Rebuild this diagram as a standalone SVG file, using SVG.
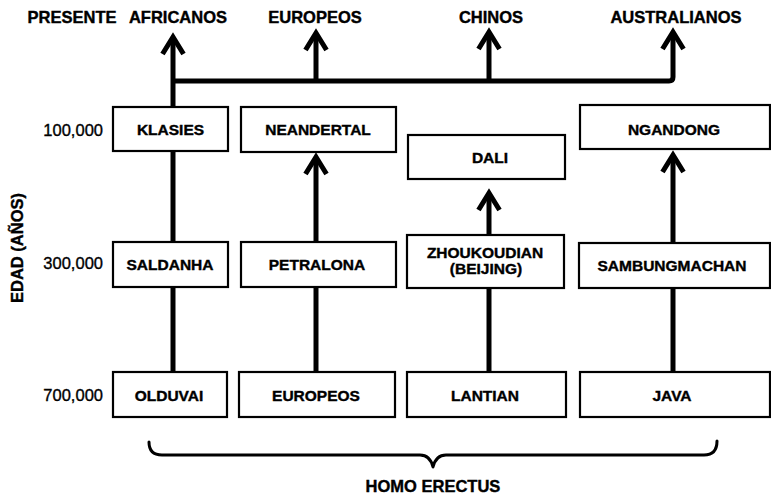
<svg xmlns="http://www.w3.org/2000/svg" width="771" height="496" viewBox="0 0 771 496">
<defs>
<marker id="head" markerUnits="userSpaceOnUse" orient="auto" refX="0" refY="0" markerWidth="40" markerHeight="40" viewBox="-25 -20 40 40" overflow="visible">
<path d="M -17,-10.5 L 0,0 L -17,10.5" fill="none" stroke="#000" stroke-width="5" stroke-linejoin="miter" stroke-miterlimit="10"/>
</marker>
<style>
.box{fill:#fff;stroke:#000;stroke-width:2.2}
.lbl{font-family:"Liberation Sans",Arial,sans-serif;font-weight:bold;font-size:15.5px;text-anchor:middle;fill:#000;stroke:#000;stroke-width:0.4}
.top{font-family:"Liberation Sans",Arial,sans-serif;font-weight:bold;font-size:16.5px;text-anchor:middle;fill:#000;stroke:#000;stroke-width:0.4}
.age{font-family:"Liberation Sans",Arial,sans-serif;font-size:16.5px;text-anchor:end;fill:#000;stroke:#000;stroke-width:0.35}
.ln{fill:none;stroke:#000;stroke-width:5}
.arr{fill:none;stroke:#000;stroke-width:5;marker-end:url(#head)}
.brace{fill:none;stroke:#000;stroke-width:3;stroke-linejoin:round;stroke-linecap:round}
</style>
</defs>
<rect width="771" height="496" fill="#fff"/>

<g id="connectors">
<path class="arr" d="M173,107 V37"/>
<path class="arr" d="M173,81 H669 Q673,81 673,77 V32"/>
<path class="arr" d="M316,81 V33"/>
<path class="arr" d="M489,81 V32"/>
<path class="ln" d="M173,372 V287"/>
<path class="ln" d="M173,242 V151"/>
<path class="ln" d="M316,372 V287"/>
<path class="arr" d="M316,242 V157"/>
<path class="ln" d="M489,372 V288"/>
<path class="arr" d="M489,235 V193"/>
<path class="ln" d="M673,372 V288"/>
<path class="arr" d="M673,243 V155"/>
</g>

<g id="labels-top">
<text class="top" x="72" y="23">PRESENTE</text>
<text class="top" x="178" y="23">AFRICANOS</text>
<text class="top" x="315" y="23">EUROPEOS</text>
<text class="top" x="491" y="23">CHINOS</text>
<text class="top" x="676" y="23">AUSTRALIANOS</text>
</g>

<g id="axis">
<text class="age" x="103" y="136">100,000</text>
<text class="age" x="103" y="269">300,000</text>
<text class="age" x="103" y="401">700,000</text>
<text class="top" transform="translate(23,248) rotate(-90)">EDAD (AÑOS)</text>
</g>

<g id="klasies"><rect class="box" x="113" y="107" width="115" height="44"/><text class="lbl" x="170.5" y="135">KLASIES</text></g>
<g id="neandertal"><rect class="box" x="241" y="107" width="155" height="45"/><text class="lbl" x="318" y="135">NEANDERTAL</text></g>
<g id="dali"><rect class="box" x="408" y="135" width="157" height="44"/><text class="lbl" x="490" y="163">DALI</text></g>
<g id="ngandong"><rect class="box" x="580" y="105" width="190" height="44"/><text class="lbl" x="674" y="135">NGANDONG</text></g>

<g id="saldanha"><rect class="box" x="113" y="242" width="115" height="45"/><text class="lbl" x="170" y="270">SALDANHA</text></g>
<g id="petralona"><rect class="box" x="241" y="242" width="155" height="45"/><text class="lbl" x="317" y="270">PETRALONA</text></g>
<g id="zhoukoudian"><rect class="box" x="407" y="235" width="157" height="53"/><text class="lbl" x="485" y="258">ZHOUKOUDIAN</text><text class="lbl" x="486" y="274">(BEIJING)</text></g>
<g id="sambungmachan"><rect class="box" x="579" y="243" width="191" height="45"/><text class="lbl" x="672" y="271">SAMBUNGMACHAN</text></g>

<g id="olduvai"><rect class="box" x="113" y="372" width="114" height="45"/><text class="lbl" x="169" y="401">OLDUVAI</text></g>
<g id="europeos"><rect class="box" x="239" y="372" width="156" height="45"/><text class="lbl" x="316" y="401">EUROPEOS</text></g>
<g id="lantian"><rect class="box" x="407" y="372" width="159" height="45"/><text class="lbl" x="485" y="401">LANTIAN</text></g>
<g id="java"><rect class="box" x="580" y="372" width="190" height="45"/><text class="lbl" x="672" y="401">JAVA</text></g>

<g id="homo-erectus">
<path class="brace" d="M149,442 Q149,455 162,455 H420 Q430,455 433,467 Q436,455 446,455 H704 Q717,455 717,441"/>
<text class="top" x="433" y="492">HOMO ERECTUS</text>
</g>
</svg>
